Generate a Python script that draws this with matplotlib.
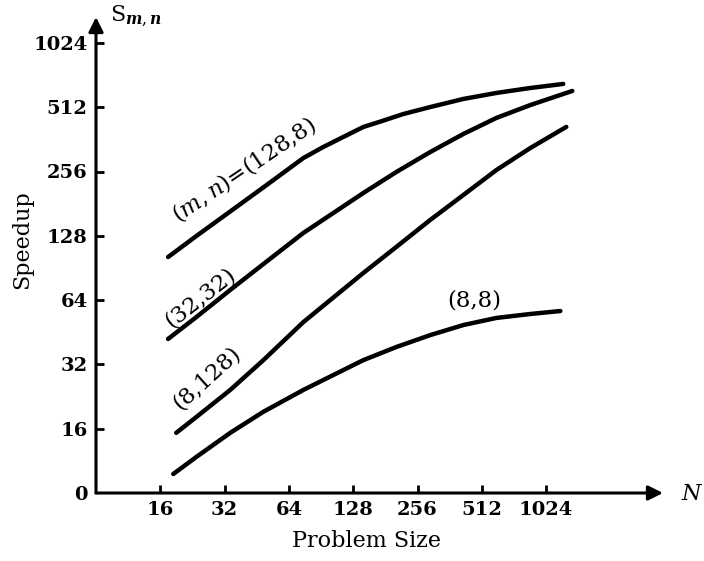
import numpy as np
import matplotlib
matplotlib.use('Agg')
import matplotlib.pyplot as plt

# values (log2 axes, "0" on the speedup axis sits where 8 would be)
n_128_8 = [17.4, 23.6, 34.0, 48.6, 60.3, 74.8, 92.7, 115, 142.7, 177, 219.6, 294, 419.4,
           599, 863.6, 1232]
s_128_8 = [101.8, 127.7, 166.4, 215.7, 252.6, 296, 333.4, 371.4, 413.6, 443, 475.7, 513,
           559.6, 597, 629.8, 658]

n_32_32 = [17.4, 23.6, 34.0, 48.6, 74.8, 142.7, 203.7, 294, 419.4, 599, 863.6, 1358]
s_32_32 = [42.1, 53.3, 71.4, 94.4, 132, 203, 254.6, 316, 383.5, 456, 524, 610]

n_8_128 = [19.0, 23.6, 34.0, 48.6, 74.8, 142.7, 203.7, 294, 419.4, 599, 863.6, 1273]
s_8_128 = [15.3, 18.15, 24.3, 33.5, 50.5, 85.7, 113.5, 152, 198.6, 260, 329.7, 414]

n_8_8 = [18.4, 23.6, 34.0, 48.6, 74.8, 142.7, 203.7, 294, 419.4, 599, 863.6, 1194]
s_8_8 = [9.82, 11.8, 15.3, 19.2, 24.3, 33.5, 38.6, 43.9, 48.9, 52.8, 55.1, 56.9]

x_ticks = [16, 32, 64, 128, 256, 512, 1024]
y_ticks = [8, 16, 32, 64, 128, 256, 512, 1024]
y_tick_labels = ['0', '16', '32', '64', '128', '256', '512', '1024']

plt.rcParams['font.family'] = ['DejaVu Serif']
plt.rcParams['mathtext.fontset'] = 'dejavuserif'

W, H = 704, 561
fig = plt.figure(figsize=(W / 100, H / 100), dpi=100)
x0, y0, x1, y1 = 96, 493, 680, 10
ax = fig.add_axes([x0 / W, 1 - y0 / H, (x1 - x0) / W, (y0 - y1) / H])
ppo = 64.3  # pixels per octave
ax.set_xscale('log', base=2)
ax.set_yscale('log', base=2)
ax.set_xlim(8, 2 ** (3 + (x1 - x0) / ppo))
ax.set_ylim(8, 2 ** (3 + (y0 - y1) / ppo))

for s in ax.spines.values():
    s.set_visible(False)

lw = 3.2
for n, s in [(n_128_8, s_128_8), (n_32_32, s_32_32), (n_8_128, s_8_128), (n_8_8, s_8_8)]:
    ax.plot(n, s, color='black', lw=lw, solid_capstyle='round', solid_joinstyle='round')

# axes with arrow heads
ax.annotate('', xy=((663 - x0) / (x1 - x0), 0), xytext=(0, 0), xycoords='axes fraction',
            arrowprops=dict(arrowstyle='-|>', color='black', lw=2.2, mutation_scale=22,
                            shrinkA=0, shrinkB=0))
ax.annotate('', xy=(0, (y0 - 17) / (y0 - y1)), xytext=(0, 0), xycoords='axes fraction',
            arrowprops=dict(arrowstyle='-|>', color='black', lw=2.2, mutation_scale=22,
                            shrinkA=0, shrinkB=0))

ax.minorticks_off()
ax.set_xticks(x_ticks)
ax.set_xticklabels([str(v) for v in x_ticks])
ax.set_yticks(y_ticks)
ax.set_yticklabels(y_tick_labels)
ax.tick_params(axis='both', direction='in', length=6, width=2, labelsize=14, pad=6)
for lab in ax.get_xticklabels() + ax.get_yticklabels():
    lab.set_fontweight('bold')
ax.yaxis.get_major_ticks()[0].tick1line.set_visible(False)

fig.text(22 / W, 1 - 240 / H, 'Speedup', fontsize=16, rotation=90, ha='center', va='center')
fig.text(366 / W, 1 - 541 / H, 'Problem Size', fontsize=16, ha='center', va='center')
fig.text(681 / W, 1 - 494 / H, 'N', fontsize=16, style='italic', va='center', ha='left')
fig.text(110 / W, 1 - 16 / H, r'S$_{\boldsymbol{m,n}}$', fontsize=16, va='center', ha='left')

# curve labels
def frac(px, py):
    return (px - x0) / (x1 - x0), (y0 - py) / (y0 - y1)

ax.text(*frac(244, 170), r'$(m,n)$=(128,8)', transform=ax.transAxes, rotation=34,
        fontsize=16.5, ha='center', va='center')
ax.text(*frac(200, 298), '(32,32)', transform=ax.transAxes, rotation=38,
        fontsize=16.5, ha='center', va='center')
ax.text(*frac(207, 378), '(8,128)', transform=ax.transAxes, rotation=42,
        fontsize=16.5, ha='center', va='center')
ax.text(*frac(474, 301), '(8,8)', transform=ax.transAxes, rotation=0,
        fontsize=16.5, ha='center', va='center')

fig.savefig('out.png', dpi=100)
